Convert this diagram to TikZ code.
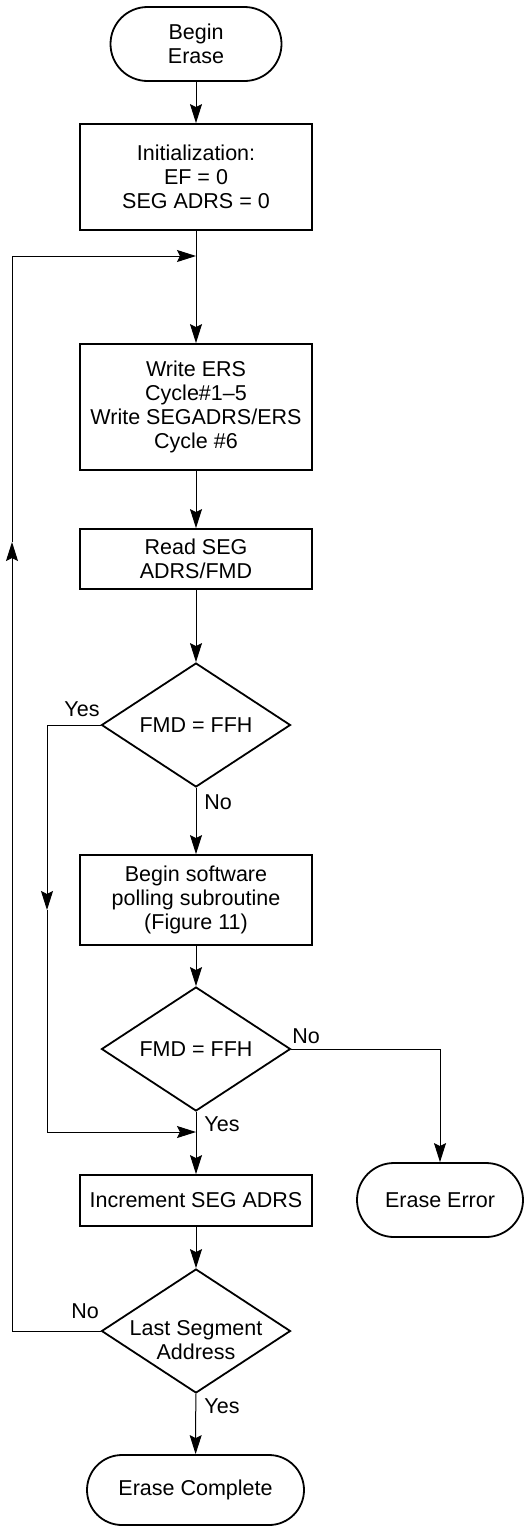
\documentclass[tikz,border=0pt]{standalone}
\usepackage{fontspec}
\setmainfont{Liberation Sans}
\usetikzlibrary{shapes.geometric,arrows.meta}
\tikzset{
  txt/.style={font=\fontsize{21.5}{24}\selectfont, align=center, inner sep=0pt},
  procbox/.style={txt, draw, line width=1.8pt, minimum width=232pt},
  term/.style={txt, draw, line width=1.8pt, rounded corners=#1},
  dia/.style={draw, diamond, line width=1.8pt, minimum width=189pt, minimum height=124pt, inner sep=0pt},
  conn/.style={line width=1pt, -{Stealth[length=19pt,width=12pt,inset=3pt]}},
  lbl/.style={font=\fontsize{21.5}{24}\selectfont, inner sep=0pt}
}
\begin{document}
\begin{tikzpicture}[x=1pt,y=-1pt]
\useasboundingbox (0,0) rectangle (524,1526);
\node[term=37pt, minimum width=171pt, minimum height=74pt] (start) at (196,44) {Begin\\Erase};
\node[procbox, minimum height=106pt] (init) at (196,177) {Initialization:\\EF = 0\\SEG ADRS = 0};
\node[procbox, minimum height=126pt] (write) at (196,407) {Write ERS\\Cycle\#1--5\\Write SEGADRS/ERS\\Cycle \#6};
\node[procbox, minimum height=60pt] (read) at (196,559) {Read SEG\\ADRS/FMD};
\node[dia, label={[txt]center:FMD = FFH}] (d1) at (196,725) {};
\node[procbox, minimum height=90pt] (poll) at (196,900) {Begin software\\polling subroutine\\(Figure 11)};
\node[dia, label={[txt]center:FMD = FFH}] (d2) at (196,1049) {};
\node[term=37pt, minimum width=166pt, minimum height=74pt] (err) at (440,1200) {Erase Error};
\node[procbox, minimum height=51pt] (inc) at (196,1200.5) {Increment SEG ADRS};
\node[dia, label={[txt,yshift=-9pt]center:{Last Segment\\Address}}] (d3) at (196,1331) {};
\node[term=35pt, minimum width=217pt, minimum height=70pt] (done) at (195.5,1490) {Erase Complete};

\coordinate (m1) at (196,256);
\coordinate (m2) at (196,1132);
\coordinate (ya) at (47,910);
\coordinate (yb) at (12,542);

\draw[conn] (start) -- (init);
\draw[conn] (init) -- (write);
\draw[conn] (write) -- (read);
\draw[conn] (read) -- (d1);
\draw[conn] (d1) -- (poll);
\draw[conn] (poll) -- (d2);
\draw[conn] (d2) -- (inc);
\draw[conn] (inc) -- (d3);
\draw[conn] (d3) -- (done);
\draw[conn] (d2.east) -| (err.north);
\draw[conn] (d1.west) -| (ya);
\draw[conn] (ya) |- (m2);
\draw[conn] (d3.west) -| (yb);
\draw[conn] (yb) |- (m1);

\node[lbl] (lyes1) at (82,709) {Yes};
\node[lbl] (lno1) at (218,802) {No};
\node[lbl] (lno2) at (306,1036) {No};
\node[lbl] (lyes2) at (222,1124) {Yes};
\node[lbl] (lno3) at (85,1311) {No};
\node[lbl] (lyes3) at (222,1406) {Yes};
\end{tikzpicture}
\end{document}
